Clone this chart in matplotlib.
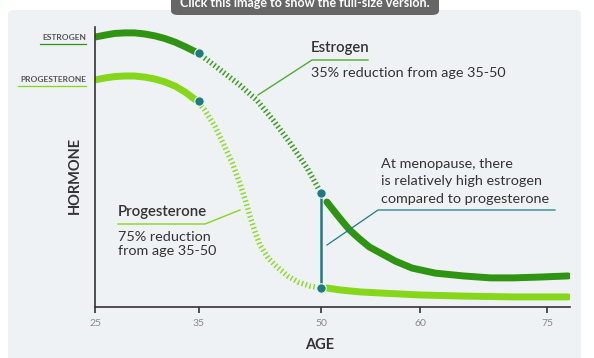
import matplotlib.pyplot as plt
import numpy as np
from matplotlib.patches import FancyBboxPatch
from matplotlib.lines import Line2D

plt.rcParams['font.family'] = ['Lato', 'DejaVu Sans']
plt.rcParams['lines.scale_dashes'] = False

W, H = 594, 358

# uneven age axis: tick ages and where they sit along the axis
tick_ages = [25, 35, 50, 60, 75]
tick_pos = [95, 199, 321, 420, 547]

# estrogen (age, relative level)
est_age_a = [25, 25.96, 26.9, 27.9, 28.8, 29.8, 30.8, 31.7, 32.7, 33.65, 34.9]
est_val_a = [96.4, 97.1, 97.7, 97.9, 97.9, 97.5, 96.8, 95.9, 94.6, 93.0, 90.7]
est_age_b = [34.9, 36.35, 37.95, 40.0, 42.1, 44.1, 46.2, 48.3, 50.0]
est_val_b = [90.7, 87.5, 83.9, 79.3, 73.9, 66.8, 58.6, 49.6, 40.7]
est_age_c = [50.6, 51.4, 52.2, 52.9, 53.9, 54.9, 56.0, 57.5, 59.2, 61.8, 65.1, 68.3, 71.0, 74.2, 77.5]
est_val_c = [37.5, 33.9, 30.4, 27.5, 24.3, 21.4, 19.3, 16.4, 13.9, 12.1, 11.1, 10.4, 10.4, 10.7, 11.1]

# progesterone
pro_age_a = [25, 25.96, 26.9, 27.9, 28.8, 29.8, 30.8, 31.7, 32.7, 33.65, 34.7]
pro_val_a = [81.1, 81.8, 82.3, 82.5, 82.5, 82.1, 81.4, 80.4, 78.9, 76.8, 73.9]
pro_age_b = [34.7, 35.7, 37.0, 37.95, 39.1, 40.0, 40.7, 41.3, 41.9, 42.5, 43.5, 44.6, 45.9, 47.2, 48.6, 50.0]
pro_val_b = [73.9, 70.4, 64.3, 58.6, 51.4, 44.3, 38.2, 32.1, 26.8, 22.1, 17.5, 14.3, 11.1, 8.9, 7.5, 6.8]
pro_age_c = [50.6, 51.9, 53.9, 56.0, 60.0, 65.1, 71.0, 77.5]
pro_val_c = [6.8, 6.1, 5.4, 5.0, 4.3, 3.9, 3.6, 3.6]

dot_age = [35, 35, 50, 50]
dot_val = [90.6, 73.6, 40.7, 6.8]

DARK = '#2f9412'
DARK_D = '#3f9e22'
LIGHT = '#86d61a'
LIGHT_D = '#8edb2a'
TEAL = '#1b7c84'
TXT = '#333333'

# piecewise-linear scale for the age axis
k_age = [0] + tick_ages + [100]
k_pos = [95 - 25 * 10.4] + tick_pos + [547 + 25 * 8.467]
def fwd(a):
    return np.interp(a, k_age, k_pos)
def inv(p):
    return np.interp(p, k_pos, k_age)

def fx(px):
    return px / W
def fy(py):
    return 1 - py / H

fig = plt.figure(figsize=(W / 100, H / 100), dpi=100)
fig.patch.set_facecolor('white')

# light panel
fig.add_artist(FancyBboxPatch((fx(8), fy(358) - 0.05), fx(573), 1 - 10 / H - fy(358) + 0.05,
                              boxstyle='round,pad=0,rounding_size=0.01',
                              transform=fig.transFigure, fc='#eff2f4', ec='none', zorder=0))
# tooltip
fig.add_artist(FancyBboxPatch((fx(171), fy(15)), fx(268), 0.1,
                              boxstyle='round,pad=0,rounding_size=0.012',
                              transform=fig.transFigure, fc='#666666', ec='none', zorder=5))
fig.text(fx(305), fy(3), 'Click this image to show the full-size version.', color='white',
         fontsize=9, fontweight='bold', ha='center', va='center', zorder=6)

ax = fig.add_axes([fx(95), fy(307), fx(570) - fx(95), fy(27) - fy(307)])
ax.set_facecolor('none')
ax.set_xscale('function', functions=(fwd, inv))
ax.set_xlim(25, inv(570))
ax.set_ylim(0, 100)

ax.plot(est_age_a, est_val_a, color=DARK, lw=5, solid_capstyle='butt', solid_joinstyle='round')
ax.plot(est_age_b, est_val_b, color=DARK_D, lw=4.0, dashes=(1.1, 1.8), dash_capstyle='butt')
ax.plot(est_age_c, est_val_c, color=DARK, lw=5, solid_capstyle='round', solid_joinstyle='round')
ax.plot(pro_age_a, pro_val_a, color=LIGHT, lw=5, solid_capstyle='butt', solid_joinstyle='round')
ax.plot(pro_age_b, pro_val_b, color=LIGHT_D, lw=4.0, dashes=(1.1, 1.8), dash_capstyle='butt')
ax.plot(pro_age_c, pro_val_c, color=LIGHT, lw=5, solid_capstyle='round', solid_joinstyle='round')
ax.vlines(50, dot_val[3], dot_val[2], color=TEAL, lw=1.8, zorder=4)
ax.plot(dot_age, dot_val, 'o', color=TEAL, ms=6.8, mec='#eff2f4', mew=0.8, zorder=5, clip_on=False)

for s in ['top', 'right']:
    ax.spines[s].set_visible(False)
for s in ['left', 'bottom']:
    ax.spines[s].set_color('#333333')
    ax.spines[s].set_linewidth(1.2)
ax.set_yticks([])
ax.set_xticks(tick_ages)
ax.set_xticklabels([str(t) for t in tick_ages])
ax.tick_params(axis='x', direction='out', length=4.5, width=1.2, color='#333333',
               labelsize=7.5, labelcolor='#888888', pad=4)

# axis titles
fig.text(fx(320), fy(345), 'AGE', fontsize=10.5, fontweight='bold', color=TXT, ha='center', va='center')
fig.text(fx(75), fy(175), 'HORMONE', fontsize=10.5, fontweight='bold', color=TXT, ha='center',
         va='center', rotation=90)

# side labels
fig.text(fx(86), fy(37), 'ESTROGEN', fontsize=6, fontweight='bold', color='#555555', ha='right', va='center')
fig.add_artist(Line2D([fx(40), fx(86)], [fy(44), fy(44)], color=DARK, lw=0.9))
fig.text(fx(86), fy(79), 'PROGESTERONE', fontsize=6, fontweight='bold', color='#555555', ha='right', va='center')
fig.add_artist(Line2D([fx(18), fx(86)], [fy(86), fy(86)], color=LIGHT, lw=0.9))

# estrogen note
fig.text(fx(311), fy(48), 'Estrogen', fontsize=10.8, fontweight='semibold', color=TXT, va='center')
fig.add_artist(Line2D([fx(258), fx(312), fx(368)], [fy(95), fy(60), fy(60)], color='#4caf30', lw=1))
fig.text(fx(311), fy(73), '35% reduction from age 35-50', fontsize=10.4, color=TXT, va='center')

# progesterone note
fig.text(fx(118), fy(244), '75% reduction\nfrom age 35-50', fontsize=10.4, color=TXT, va='center',
         linespacing=1.22)
fig.text(fx(118), fy(212), 'Progesterone', fontsize=10.8, fontweight='semibold', color=TXT, va='center')
fig.add_artist(Line2D([fx(118), fx(205), fx(240)], [fy(224), fy(224), fy(210)], color=LIGHT, lw=1))

# menopause note
fig.text(fx(381), fy(181), 'At menopause, there\nis relatively high estrogen\ncompared to progesterone',
         fontsize=10.4, color=TXT, va='center', linespacing=1.55)
fig.add_artist(Line2D([fx(327), fx(378), fx(555)], [fy(245), fy(210), fy(210)], color=TEAL, lw=0.9))

fig.savefig('out.png', dpi=100, facecolor='white')
